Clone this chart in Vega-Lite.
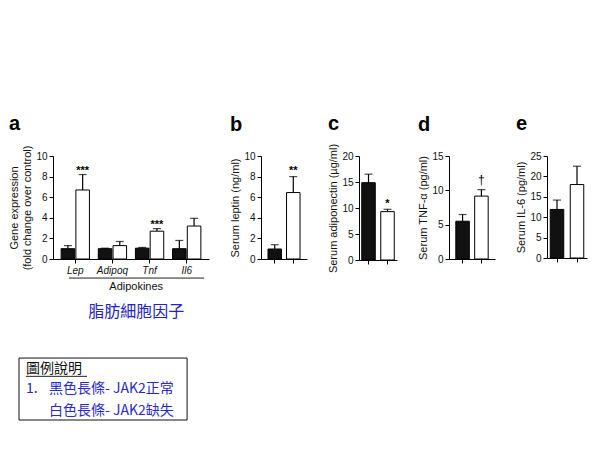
{
  "$schema": "https://vega.github.io/schema/vega-lite/v6.json",
  "padding": {"left": 8, "top": 114, "right": 5, "bottom": 5},
  "background": "white",
  "config": {
    "view": {"stroke": null},
    "font": "Liberation Sans",
    "axis": {"grid": false, "domainColor": "#000", "tickColor": "#000", "labelColor": "#111", "titleColor": "#111", "labelFont": "Liberation Sans", "titleFont": "Liberation Sans", "labelFontSize": 10, "titleFontSize": 11, "titleFontWeight": "normal", "tickSize": 4, "labelPadding": 2, "titlePadding": 3, "labelOverlap": false},
    "title": {"anchor": "start", "frame": "bounds", "fontSize": 20, "fontWeight": "bold", "font": "Liberation Sans", "color": "#000", "offset": 11}
  },
  "datasets": {
    "genes": [
      {"gene": "Lep", "group": "WT", "mean": 1.0, "err": 1.3, "sig": ""},
      {"gene": "Lep", "group": "KO", "mean": 6.7, "err": 8.2, "sig": "***"},
      {"gene": "Adipoq", "group": "WT", "mean": 1.0, "err": 1.05, "sig": ""},
      {"gene": "Adipoq", "group": "KO", "mean": 1.3, "err": 1.7, "sig": ""},
      {"gene": "Tnf", "group": "WT", "mean": 1.05, "err": 1.12, "sig": ""},
      {"gene": "Tnf", "group": "KO", "mean": 2.7, "err": 2.95, "sig": "***"},
      {"gene": "Il6", "group": "WT", "mean": 1.0, "err": 1.8, "sig": ""},
      {"gene": "Il6", "group": "KO", "mean": 3.2, "err": 3.95, "sig": ""}
    ],
    "serum": [
      {"panel": "b", "group": "WT", "mean": 0.97, "err": 1.39, "sig": ""},
      {"panel": "b", "group": "KO", "mean": 6.45, "err": 8.0, "sig": "**"},
      {"panel": "c", "group": "WT", "mean": 14.87, "err": 16.5, "sig": ""},
      {"panel": "c", "group": "KO", "mean": 9.3, "err": 9.75, "sig": "*"},
      {"panel": "d", "group": "WT", "mean": 5.5, "err": 6.48, "sig": ""},
      {"panel": "d", "group": "KO", "mean": 9.16, "err": 10.1, "sig": "†"},
      {"panel": "e", "group": "WT", "mean": 11.9, "err": 14.2, "sig": ""},
      {"panel": "e", "group": "KO", "mean": 18.0, "err": 22.5, "sig": ""}
    ],
    "annot": [
      {"kind": "rule", "x": 0.43, "x2": 4.07, "y": 0.05, "label": ""},
      {"kind": "en", "x": 2.24, "y": 0.48, "label": "Adipokines"},
      {"kind": "zh", "x": 2.24, "y": 1.67, "label": "脂肪細胞因子"},
      {"kind": "box", "x": -0.915, "x2": 3.61, "y": 3.86, "y2": 6.81, "label": ""},
      {"kind": "head", "x": -0.727, "y": 4.38, "label": "圖例說明"},
      {"kind": "underline", "x": -0.727, "x2": 0.916, "y": 4.73, "label": ""},
      {"kind": "item", "x": -0.727, "y": 5.33, "label": "1."},
      {"kind": "item", "x": -0.108, "y": 5.33, "label": "黑色長條- JAK2正常"},
      {"kind": "item", "x": -0.108, "y": 6.38, "label": "白色長條- JAK2缺失"}
    ]
  },
  "vconcat": [
    {
      "hconcat": [
        {
          "title": {"text": "a", "dy": 0},
          "width": 156, "height": 103,
          "data": {"name": "genes"},
          "encoding": {
            "x": {"field": "gene", "type": "nominal", "sort": ["Lep", "Adipoq", "Tnf", "Il6"], "scale": {"paddingInner": 0, "paddingOuter": 0.1}, "axis": {"title": null, "labelAngle": 0, "labelFontStyle": "italic", "labelFontSize": 10}},
            "xOffset": {"field": "group", "type": "nominal", "sort": ["WT", "KO"], "scale": {"paddingInner": 0.08, "paddingOuter": 0.3}}
          },
          "layer": [
            {"mark": {"type": "rule", "color": "#000", "strokeWidth": 1.2}, "encoding": {"y": {"field": "mean", "type": "quantitative", "title": ["Gene expression", "(fold change over control)"], "scale": {"domain": [0, 10]}, "axis": {"values": [0, 2, 4, 6, 8, 10]}}, "y2": {"field": "err"}}},
            {"mark": {"type": "tick", "color": "#000", "size": 8, "thickness": 1.2}, "encoding": {"y": {"field": "err", "type": "quantitative", "title": ["Gene expression", "(fold change over control)"], "scale": {"domain": [0, 10]}, "axis": {"values": [0, 2, 4, 6, 8, 10]}}}},
            {"mark": {"type": "bar", "stroke": "#000", "strokeWidth": 1}, "encoding": {"y": {"field": "mean", "type": "quantitative", "title": ["Gene expression", "(fold change over control)"], "scale": {"domain": [0, 10]}, "axis": {"values": [0, 2, 4, 6, 8, 10]}}, "fill": {"field": "group", "type": "nominal", "scale": {"domain": ["WT", "KO"], "range": ["#111111", "#ffffff"]}, "legend": null}}},
            {"mark": {"type": "text", "baseline": "alphabetic", "dy": -1, "fontSize": 11, "fontWeight": "bold", "color": "#000"}, "encoding": {"y": {"field": "err", "type": "quantitative", "title": ["Gene expression", "(fold change over control)"], "scale": {"domain": [0, 10]}, "axis": {"values": [0, 2, 4, 6, 8, 10]}}, "text": {"field": "sig"}}}
          ]
        },
        {
          "title": {"text": "b", "dy": -5},
          "width": 46, "height": 103,
          "data": {"name": "serum"},
          "transform": [{"filter": "datum.panel == 'b'"}],
          "encoding": {"x": {"field": "group", "type": "nominal", "sort": ["WT", "KO"], "scale": {"paddingInner": 0, "paddingOuter": 0.24}, "axis": {"title": null, "labels": false}}},
          "layer": [
            {"mark": {"type": "rule", "color": "#000", "strokeWidth": 1.2}, "encoding": {"y": {"field": "mean", "type": "quantitative", "title": "Serum leptin (ng/ml)", "scale": {"domain": [0, 10]}, "axis": {"values": [0, 2, 4, 6, 8, 10]}}, "y2": {"field": "err"}}},
            {"mark": {"type": "tick", "color": "#000", "size": 8, "thickness": 1.2}, "encoding": {"y": {"field": "err", "type": "quantitative", "title": "Serum leptin (ng/ml)", "scale": {"domain": [0, 10]}, "axis": {"values": [0, 2, 4, 6, 8, 10]}}}},
            {"mark": {"type": "bar", "stroke": "#000", "strokeWidth": 1, "width": 13.5}, "encoding": {"y": {"field": "mean", "type": "quantitative", "title": "Serum leptin (ng/ml)", "scale": {"domain": [0, 10]}, "axis": {"values": [0, 2, 4, 6, 8, 10]}}, "fill": {"field": "group", "type": "nominal", "scale": {"domain": ["WT", "KO"], "range": ["#111111", "#ffffff"]}, "legend": null}}},
            {"mark": {"type": "text", "baseline": "alphabetic", "dy": -3, "fontSize": 11, "fontWeight": "bold", "color": "#000"}, "encoding": {"y": {"field": "err", "type": "quantitative", "title": "Serum leptin (ng/ml)", "scale": {"domain": [0, 10]}, "axis": {"values": [0, 2, 4, 6, 8, 10]}}, "text": {"field": "sig"}}}
          ]
        },
        {
          "title": {"text": "c", "dy": 2},
          "width": 38, "height": 104,
          "data": {"name": "serum"},
          "transform": [{"filter": "datum.panel == 'c'"}],
          "encoding": {"x": {"field": "group", "type": "nominal", "sort": ["WT", "KO"], "scale": {"paddingInner": 0, "paddingOuter": 0}, "axis": {"title": null, "labels": false}}},
          "layer": [
            {"mark": {"type": "rule", "color": "#000", "strokeWidth": 1.2}, "encoding": {"y": {"field": "mean", "type": "quantitative", "title": "Serum adiponectin (µg/ml)", "scale": {"domain": [0, 20]}, "axis": {"values": [0, 5, 10, 15, 20]}}, "y2": {"field": "err"}}},
            {"mark": {"type": "tick", "color": "#000", "size": 8, "thickness": 1.2}, "encoding": {"y": {"field": "err", "type": "quantitative", "title": "Serum adiponectin (µg/ml)", "scale": {"domain": [0, 20]}, "axis": {"values": [0, 5, 10, 15, 20]}}}},
            {"mark": {"type": "bar", "stroke": "#000", "strokeWidth": 1, "width": 13.5}, "encoding": {"y": {"field": "mean", "type": "quantitative", "title": "Serum adiponectin (µg/ml)", "scale": {"domain": [0, 20]}, "axis": {"values": [0, 5, 10, 15, 20]}}, "fill": {"field": "group", "type": "nominal", "scale": {"domain": ["WT", "KO"], "range": ["#111111", "#ffffff"]}, "legend": null}}},
            {"mark": {"type": "text", "baseline": "alphabetic", "dy": -2, "fontSize": 11, "fontWeight": "bold", "color": "#000"}, "encoding": {"y": {"field": "err", "type": "quantitative", "title": "Serum adiponectin (µg/ml)", "scale": {"domain": [0, 20]}, "axis": {"values": [0, 5, 10, 15, 20]}}, "text": {"field": "sig"}}}
          ]
        },
        {
          "title": {"text": "d", "dy": -5},
          "width": 46, "height": 103,
          "data": {"name": "serum"},
          "transform": [{"filter": "datum.panel == 'd'"}],
          "encoding": {"x": {"field": "group", "type": "nominal", "sort": ["WT", "KO"], "scale": {"paddingInner": 0, "paddingOuter": 0.22}, "axis": {"title": null, "labels": false}}},
          "layer": [
            {"mark": {"type": "rule", "color": "#000", "strokeWidth": 1.2}, "encoding": {"y": {"field": "mean", "type": "quantitative", "title": "Serum TNF-α (pg/ml)", "scale": {"domain": [0, 15]}, "axis": {"values": [0, 5, 10, 15]}}, "y2": {"field": "err"}}},
            {"mark": {"type": "tick", "color": "#000", "size": 8, "thickness": 1.2}, "encoding": {"y": {"field": "err", "type": "quantitative", "title": "Serum TNF-α (pg/ml)", "scale": {"domain": [0, 15]}, "axis": {"values": [0, 5, 10, 15]}}}},
            {"mark": {"type": "bar", "stroke": "#000", "strokeWidth": 1, "width": 13.5}, "encoding": {"y": {"field": "mean", "type": "quantitative", "title": "Serum TNF-α (pg/ml)", "scale": {"domain": [0, 15]}, "axis": {"values": [0, 5, 10, 15]}}, "fill": {"field": "group", "type": "nominal", "scale": {"domain": ["WT", "KO"], "range": ["#111111", "#ffffff"]}, "legend": null}}},
            {"mark": {"type": "text", "baseline": "alphabetic", "dy": -6, "fontSize": 12, "color": "#000"}, "encoding": {"y": {"field": "err", "type": "quantitative", "title": "Serum TNF-α (pg/ml)", "scale": {"domain": [0, 15]}, "axis": {"values": [0, 5, 10, 15]}}, "text": {"field": "sig"}}}
          ]
        },
        {
          "title": {"text": "e", "dy": -6},
          "width": 40, "height": 102,
          "data": {"name": "serum"},
          "transform": [{"filter": "datum.panel == 'e'"}],
          "encoding": {"x": {"field": "group", "type": "nominal", "sort": ["WT", "KO"], "scale": {"paddingInner": 0, "paddingOuter": 0}, "axis": {"title": null, "labels": false}}},
          "layer": [
            {"mark": {"type": "rule", "color": "#000", "strokeWidth": 1.2}, "encoding": {"y": {"field": "mean", "type": "quantitative", "title": "Serum IL-6 (pg/ml)", "scale": {"domain": [0, 25]}, "axis": {"values": [0, 5, 10, 15, 20, 25]}}, "y2": {"field": "err"}}},
            {"mark": {"type": "tick", "color": "#000", "size": 8, "thickness": 1.2}, "encoding": {"y": {"field": "err", "type": "quantitative", "title": "Serum IL-6 (pg/ml)", "scale": {"domain": [0, 25]}, "axis": {"values": [0, 5, 10, 15, 20, 25]}}}},
            {"mark": {"type": "bar", "stroke": "#000", "strokeWidth": 1, "width": 13.5}, "encoding": {"y": {"field": "mean", "type": "quantitative", "title": "Serum IL-6 (pg/ml)", "scale": {"domain": [0, 25]}, "axis": {"values": [0, 5, 10, 15, 20, 25]}}, "fill": {"field": "group", "type": "nominal", "scale": {"domain": ["WT", "KO"], "range": ["#111111", "#ffffff"]}, "legend": null}}}
          ]
        }
      ],
      "spacing": 52,
      "bounds": "flush"
    },
    {
      "width": 156, "height": 147,
      "data": {"name": "annot"},
      "encoding": {
        "x": {"field": "x", "type": "quantitative", "scale": {"domain": [0, 4.2], "nice": false, "zero": false}, "axis": null},
        "y": {"field": "y", "type": "quantitative", "scale": {"domain": [0, 7], "reverse": true, "nice": false, "zero": false}, "axis": null}
      },
      "layer": [
        {"transform": [{"filter": "datum.kind == 'box'"}], "mark": {"type": "rect", "fill": null, "stroke": "#111", "strokeWidth": 1}, "encoding": {"x2": {"field": "x2"}, "y2": {"field": "y2"}}},
        {"transform": [{"filter": "datum.kind == 'rule' || datum.kind == 'underline'"}], "mark": {"type": "rule", "color": "#222", "strokeWidth": 1}, "encoding": {"x2": {"field": "x2"}}},
        {"transform": [{"filter": "datum.kind == 'en'"}], "mark": {"type": "text", "baseline": "middle", "fontSize": 11, "color": "#111", "font": "Liberation Sans"}, "encoding": {"text": {"field": "label"}}},
        {"transform": [{"filter": "datum.kind == 'zh'"}], "mark": {"type": "text", "baseline": "middle", "fontSize": 16, "color": "#2424c4", "font": "Noto Sans CJK TC"}, "encoding": {"text": {"field": "label"}}},
        {"transform": [{"filter": "datum.kind == 'head' || datum.kind == 'item'"}], "mark": {"type": "text", "align": "left", "baseline": "middle", "fontSize": 14, "font": "Noto Sans CJK TC"}, "encoding": {"text": {"field": "label"}, "color": {"field": "kind", "type": "nominal", "scale": {"domain": ["head", "item"], "range": ["#111111", "#2a2ac8"]}, "legend": null}}}
      ]
    }
  ],
  "spacing": 2
}
